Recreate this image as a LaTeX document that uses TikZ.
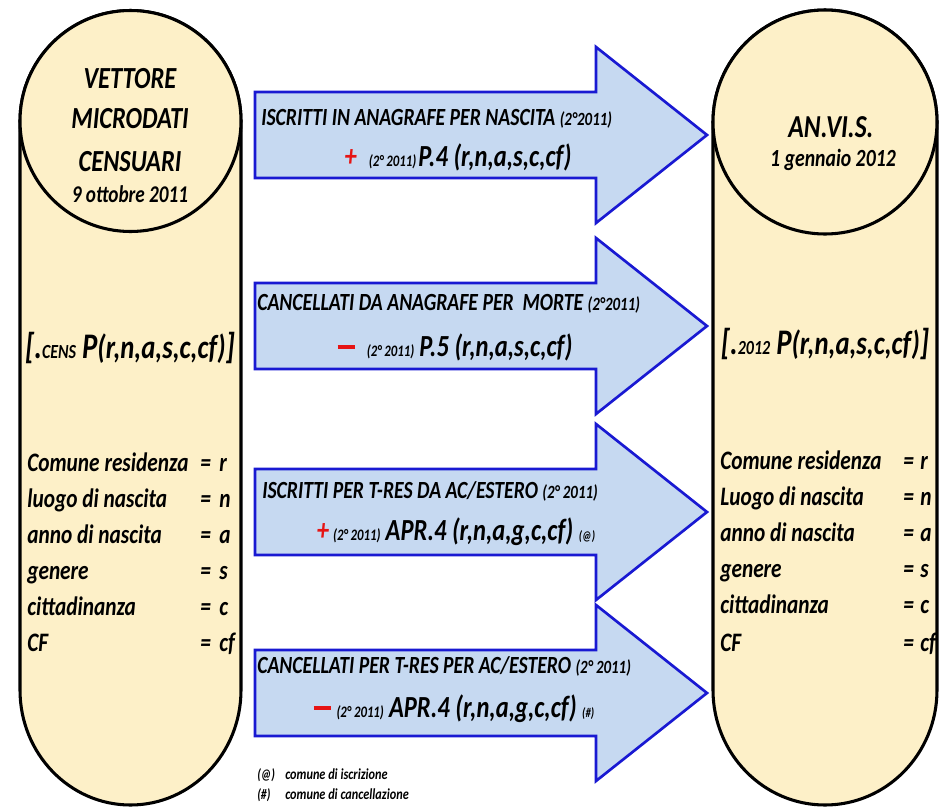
\documentclass[tikz,border=0pt]{standalone}
\usepackage{fontspec}
\setmainfont{Carlito}[FakeStretch=0.8]
\definecolor{cream}{RGB}{253,240,200}
\definecolor{arrowfill}{RGB}{198,217,241}
\definecolor{arrowblue}{RGB}{25,25,210}
\definecolor{plusred}{RGB}{230,20,20}
\newcommand\fsz[1]{\fontsize{#1pt}{#1pt}\selectfont}
\newcommand\redminus{\textcolor{plusred}{\rule[5.5pt]{13pt}{2.6pt}}}
\tikzset{
  cyl/.style={fill=cream, draw=black, line width=2.3pt},
  bigarrow/.style={fill=arrowfill, draw=arrowblue, line width=2pt, line join=miter},
  txt/.style={inner sep=0pt, font=\bfseries\itshape},
}
\begin{document}
\begin{tikzpicture}[x=0.75pt,y=0.75pt]
\useasboundingbox (0,0) rectangle (940,-808);
% left cylinder
\draw[cyl] (20,-121) arc[start angle=180,end angle=0,radius=110.5] -- (241,-690)
  arc[start angle=0,end angle=-180,x radius=110.5,y radius=115] -- cycle;
\draw[cyl] (130.5,-121) circle[radius=110.5];
% right cylinder
\draw[cyl] (713,-122) arc[start angle=180,end angle=0,radius=112] -- (937,-690)
  arc[start angle=0,end angle=-180,x radius=112,y radius=115] -- cycle;
\draw[cyl] (825,-122) circle[radius=112];
% arrows
\draw[bigarrow] (255,-92) -- (596,-92) -- (596,-47) -- (707,-135) -- (596,-223) -- (596,-178) -- (255,-178) -- cycle;
\draw[bigarrow] (255,-283) -- (596,-283) -- (596,-238) -- (707,-326) -- (596,-414) -- (596,-369) -- (255,-369) -- cycle;
\draw[bigarrow] (255,-469) -- (596,-469) -- (596,-424) -- (707,-512) -- (596,-600) -- (596,-555) -- (255,-555) -- cycle;
\draw[bigarrow] (255,-650) -- (596,-650) -- (596,-605) -- (707,-693) -- (596,-781) -- (596,-736) -- (255,-736) -- cycle;
% left cylinder texts
\node[txt,anchor=base] (l1) at (130,-88) {\fsz{23}VETTORE};
\node[txt,anchor=base] (l2) at (130,-128) {\fsz{23}MICRODATI};
\node[txt,anchor=base] (l3) at (130,-171) {\fsz{23}CENSUARI};
\node[txt,anchor=base] (l4) at (130,-202) {\fsz{18}9 ottobre 2011};
\node[txt,anchor=base] (lf) at (130,-358) {\fsz{27}[.{\fsz{15}CENS}\,P{\fsz{25}(r,n,a,s,c,cf)}]};
% right cylinder texts
\node[txt,anchor=base] (r1) at (831,-137) {\fsz{24}AN.VI.S.};
\node[txt,anchor=base] (r2) at (833,-166) {\fsz{18.5}1 gennaio 2012};
\node[txt,anchor=base] (rf) at (825,-354) {\fsz{27}[.{\fsz{15}2012}\,P{\fsz{25}(r,n,a,s,c,cf)}]};
% lists
\foreach \lab/\val/\yy [count=\i] in {Comune residenza/r/471, luogo di nascita/n/507, anno di nascita/a/543, genere/s/579, cittadinanza/c/615, CF/cf/651}{
  \node[txt,anchor=base west] (ll\i) at (27,-\yy) {\fsz{20}\lab};
  \node[txt,anchor=base west] (le\i) at (200,-\yy) {\fsz{20}=};
  \node[txt,anchor=base west] (lv\i) at (219,-\yy) {\fsz{20}\val};
}
\foreach \lab/\val/\yy [count=\i] in {Comune residenza/r/469, Luogo di nascita/n/505, anno di nascita/a/541, genere/s/577, cittadinanza/c/613, CF/cf/651}{
  \node[txt,anchor=base west] (rl\i) at (720,-\yy) {\fsz{20}\lab};
  \node[txt,anchor=base west] (re\i) at (903,-\yy) {\fsz{20}=};
  \node[txt,anchor=base west] (rv\i) at (920,-\yy) {\fsz{20}\val};
}
% arrow texts
\node[txt,anchor=base west] (a1t) at (261,-125) {\fsz{18.5}ISCRITTI IN ANAGRAFE PER NASCITA {\fsz{14}(2°2011)}};
\node[txt,anchor=base] (a1b) at (458,-166) {\textcolor{plusred}{\fsz{23}+}\hspace{9pt}{\fsz{12}(2°\,2011)}\,{\fsz{23}P.4 (r,n,a,s,c,cf)}};
\node[txt,anchor=base west] (a2t) at (257,-310) {\fsz{18.5}CANCELLATI DA ANAGRAFE PER\ \ MORTE {\fsz{14}(2°2011)}};
\node[txt,anchor=base] (a2b) at (455,-356) {\fsz{23}\redminus\hspace{9pt}{\fsz{12}(2°\,2011)}\,P.5 (r,n,a,s,c,cf)};
\node[txt,anchor=base west] (a3t) at (262,-498) {\fsz{18.5}ISCRITTI PER T-RES DA AC/ESTERO {\fsz{14}(2°\,2011)}};
\node[txt,anchor=base] (a3b) at (456,-540) {\fsz{23}\textcolor{plusred}{+}\hspace{3pt}{\fsz{12}(2°\,2011)}\,APR.4 (r,n,a,g,c,cf) {\fsz{10}(@)}};
\node[txt,anchor=base west] (a4t) at (257,-673) {\fsz{18.5}CANCELLATI PER T-RES PER AC/ESTERO {\fsz{14}(2°\,2011)}};
\node[txt,anchor=base] (a4b) at (454,-717) {\fsz{23}\redminus\hspace{4pt}{\fsz{12}(2°\,2011)}\,APR.4 (r,n,a,g,c,cf) {\fsz{10}(\#)}};
% footnotes
\node[txt,anchor=base west] (n1a) at (257,-779) {\fsz{11}(@)};
\node[txt,anchor=base west] (n1b) at (285,-779) {\fsz{11.5}comune di iscrizione};
\node[txt,anchor=base west] (n2a) at (257,-799) {\fsz{11}(\#)};
\node[txt,anchor=base west] (n2b) at (285,-799) {\fsz{11.5}comune di cancellazione};
\end{tikzpicture}
\end{document}
